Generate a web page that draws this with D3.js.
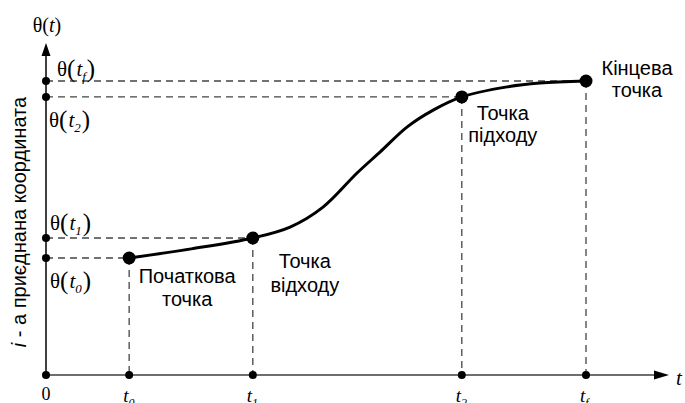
<!DOCTYPE html>
<html>
<head>
<meta charset="utf-8">
<script src="https://cdn.jsdelivr.net/npm/d3@7/dist/d3.min.js"></script>
<style>
  html, body { margin: 0; padding: 0; background: #fff; }
  svg { display: block; }
</style>
</head>
<body>
<svg id="chart" width="685" height="403"></svg>
<script>
// Key instants of the trajectory and the coordinate value at each of them
const keyNames   = ["0", "1", "2", "f"];
const keyTimes   = [1.54, 3.83, 7.70, 10.0];
const keyThetas  = [3.98, 4.66, 9.46, 10.0];

// Trajectory of the coordinate theta(t)
const curveT     = [1.54, 2.69, 3.83, 4.52, 5.13, 5.76, 6.19, 6.69, 7.17, 7.70, 8.54, 9.15, 10.0];
const curveTheta = [3.98, 4.29, 4.66, 5.03, 5.71, 6.87, 7.59, 8.44, 9.01, 9.46, 9.80, 9.93, 10.0];

// Point captions (two lines each)
const captions = [
  ["Початкова", "точка"],
  ["Точка", "відходу"],
  ["Точка", "підходу"],
  ["Кінцева", "точка"]
];

const svg = d3.select("#chart");

const x = d3.scaleLinear().domain([0, 10]).range([46, 586]);
const y = d3.scaleLinear().domain([0, 10]).range([375, 81]);

const x0 = x(0), y0 = y(0);
const serif = "'Liberation Serif', 'Times New Roman', serif";
const sans = "'Liberation Sans', Arial, sans-serif";

// Dashed guide lines
const guides = svg.append("g")
  .attr("stroke", "#444")
  .attr("stroke-width", 1.3)
  .attr("stroke-dasharray", "7,5")
  .attr("fill", "none");

keyTimes.forEach((t, i) => {
  guides.append("line")
    .attr("x1", x0).attr("x2", x(t))
    .attr("y1", y(keyThetas[i])).attr("y2", y(keyThetas[i]));
  guides.append("line")
    .attr("x1", x(t)).attr("x2", x(t))
    .attr("y1", y(keyThetas[i])).attr("y2", y0);
});

// Horizontal time axis with arrow
svg.append("line")
  .attr("x1", x0).attr("x2", 656)
  .attr("y1", y0).attr("y2", y0)
  .attr("stroke", "#6e6e6e").attr("stroke-width", 2);
svg.append("path")
  .attr("d", `M669,${y0} L654,${y0 - 4.5} L654,${y0 + 4.5} Z`)
  .attr("fill", "#000");

// Vertical coordinate axis with arrow
svg.append("line")
  .attr("x1", x0).attr("x2", x0)
  .attr("y1", y0).attr("y2", 55)
  .attr("stroke", "#000").attr("stroke-width", 1.5);
svg.append("path")
  .attr("d", `M${x0},43 L${x0 - 4.5},56 L${x0 + 4.5},56 Z`)
  .attr("fill", "#000");

// Small markers on both axes
const axisDots = svg.append("g").attr("fill", "#000");
axisDots.append("circle").attr("cx", x0).attr("cy", y0).attr("r", 4);
keyTimes.forEach(t => axisDots.append("circle").attr("cx", x(t)).attr("cy", y0).attr("r", 4));
keyThetas.forEach(v => axisDots.append("circle").attr("cx", x0).attr("cy", y(v)).attr("r", 4));

// Trajectory curve
const line = d3.line()
  .x(d => x(d[0]))
  .y(d => y(d[1]))
  .curve(d3.curveCatmullRom.alpha(0.5));

svg.append("path")
  .datum(curveT.map((t, i) => [t, curveTheta[i]]))
  .attr("d", line)
  .attr("fill", "none")
  .attr("stroke", "#000")
  .attr("stroke-width", 3);

// Key points on the curve
svg.append("g").selectAll("circle")
  .data(keyTimes)
  .join("circle")
  .attr("cx", d => x(d))
  .attr("cy", (d, i) => y(keyThetas[i]))
  .attr("r", 6.5)
  .attr("fill", "#000");

// Axis titles
const ttl = svg.append("text")
  .attr("x", 47).attr("y", 32)
  .attr("text-anchor", "middle")
  .attr("font-family", serif).attr("font-size", 20);
ttl.append("tspan").text("θ(");
ttl.append("tspan").attr("font-style", "italic").text("t");
ttl.append("tspan").text(")");

svg.append("text")
  .attr("x", 676).attr("y", 385)
  .attr("font-family", serif).attr("font-size", 21)
  .attr("font-style", "italic")
  .text("t");

const ylab = svg.append("text")
  .attr("transform", "translate(26,222) rotate(-90)")
  .attr("text-anchor", "middle")
  .attr("font-family", sans).attr("font-size", 20);
ylab.append("tspan").attr("font-style", "italic").text("i");
ylab.append("tspan").text(" -  а приєднана координата");

// Time tick labels
svg.append("text")
  .attr("x", x0).attr("y", 400)
  .attr("text-anchor", "middle")
  .attr("font-family", serif).attr("font-size", 18)
  .text("0");

keyTimes.forEach((t, i) => {
  const lbl = svg.append("text")
    .attr("x", x(t) - 6).attr("y", 402)
    .attr("font-family", serif).attr("font-size", 19)
    .attr("font-style", "italic");
  lbl.append("tspan").text("t");
  lbl.append("tspan").attr("font-size", 12).attr("dy", 5).text(keyNames[i]);
});

// Coordinate labels theta(t_k)
const thetaLabelPos = [
  { dx: 4,  dy: 30 },   // theta(t0): below its guide
  { dx: 4,  dy: -8 },   // theta(t1): above its guide
  { dx: 3,  dy: 30 },   // theta(t2): below its guide
  { dx: 11, dy: -5 }    // theta(tf): above its guide
];
keyThetas.forEach((v, i) => {
  const p = thetaLabelPos[i];
  const lbl = svg.append("text")
    .attr("x", x0 + p.dx).attr("y", y(v) + p.dy)
    .attr("font-family", serif).attr("font-size", 21);
  lbl.append("tspan").text("θ");
  lbl.append("tspan").attr("font-size", 25).attr("dy", 1).text("(");
  lbl.append("tspan").attr("font-style", "italic").attr("dy", -1).attr("dx", 1).text("t");
  lbl.append("tspan").attr("font-style", "italic").attr("font-size", 13).attr("dy", 5).text(keyNames[i]);
  lbl.append("tspan").attr("font-size", 25).attr("dy", -4).attr("dx", 1).text(")");
});

// Captions next to the key points
const captionPos = [
  { dx: 58,  dy: 25,  gap: 23 },
  { dx: 52,  dy: 30,  gap: 24 },
  { dx: 41,  dy: 23,  gap: 22 },
  { dx: 51,  dy: -6,  gap: 22 }
];
captions.forEach((lines, i) => {
  const p = captionPos[i];
  const cx = x(keyTimes[i]) + p.dx;
  const cy = y(keyThetas[i]) + p.dy;
  lines.forEach((s, j) => {
    svg.append("text")
      .attr("x", cx).attr("y", cy + j * p.gap)
      .attr("text-anchor", "middle")
      .attr("font-family", sans).attr("font-size", 20)
      .attr("fill", "#000")
      .text(s);
  });
});
</script>
</body>
</html>
